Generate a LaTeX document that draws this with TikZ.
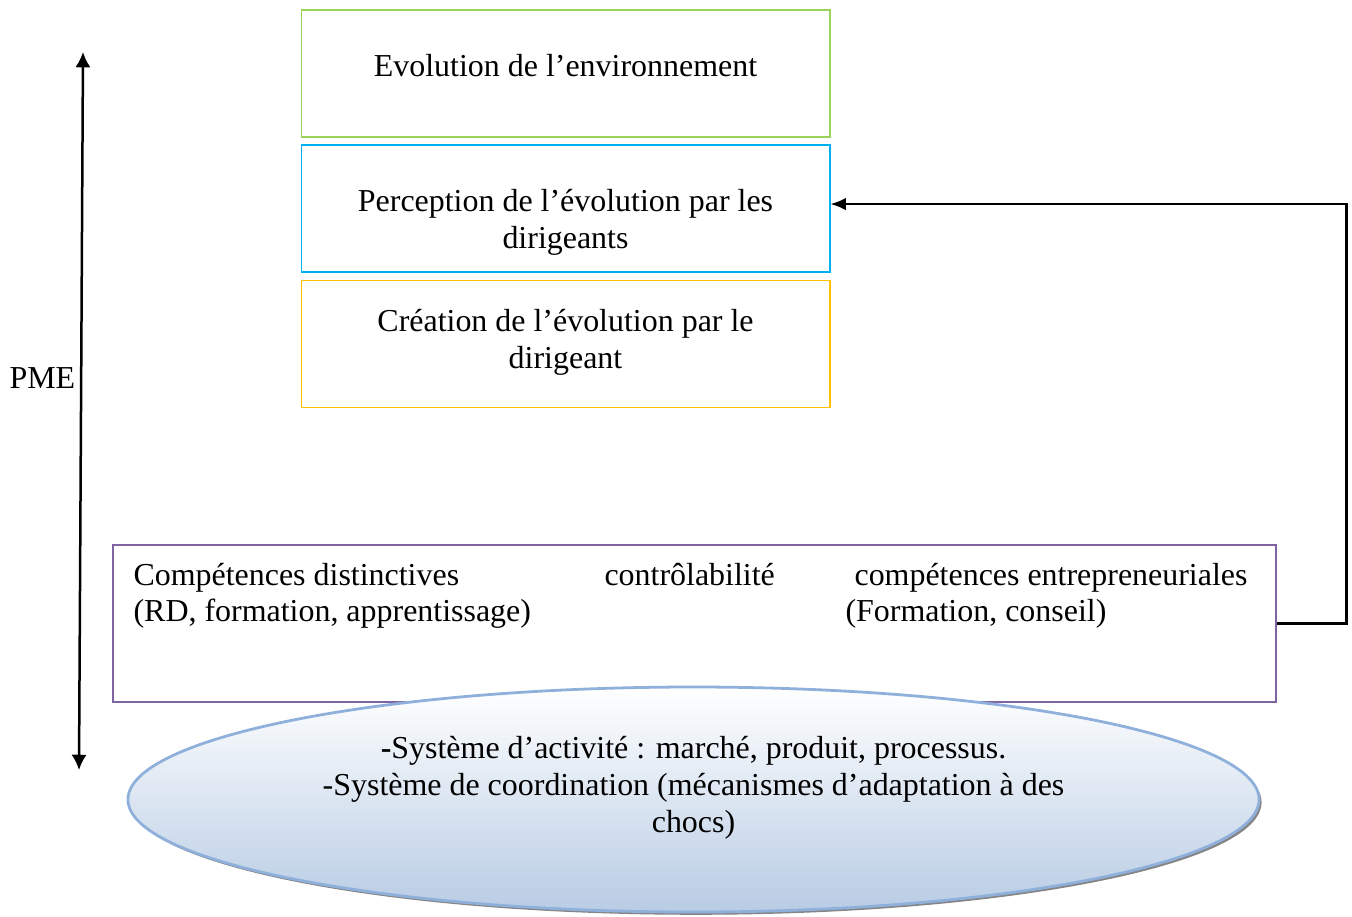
\documentclass[tikz,border=0pt]{standalone}
\usepackage{fontspec}
\setmainfont{Liberation Serif}
\usetikzlibrary{positioning,shapes.geometric,arrows.meta,shadows}
\definecolor{boxgreen}{HTML}{9BD35A}
\definecolor{boxcyan}{HTML}{00B0F0}
\definecolor{boxorange}{HTML}{FFC000}
\definecolor{boxpurple}{HTML}{8064A2}
\definecolor{ellline}{HTML}{8EB0DB}
\definecolor{ellfill}{HTML}{B8CCE4}

\begin{document}
\begin{tikzpicture}[x=0.36pt, y=-0.36pt,
    every node/.style={font=\fontsize{11.5}{13.3}\selectfont, align=center},
    box/.style={draw, line width=0.4pt, minimum width=190.4pt, minimum height=45.7pt, inner sep=0pt},
    lbl/.style={inner sep=0pt}]
    \useasboundingbox (0,0) rectangle (1352,916);
    % les trois niveaux
    \node[box, draw=boxgreen] (env) at (565.5,73.5) {};
    \node[box, draw=boxcyan] (persp) at (565.5,208.5) {};
    \node[box, draw=boxorange] (creat) at (565.5,344) {};
    \node[lbl, anchor=base] (envtxt) at (565.5,76) {Evolution de l’environnement};
    \node[lbl, anchor=base] (persptxt) at (565.5,248) {Perception de l’évolution par les\\dirigeants};
    \node[lbl, anchor=base] (creattxt) at (565.5,368) {Création de l’évolution par le\\dirigeant};
    % competences
    \node[draw=boxpurple, line width=0.4pt, minimum width=418.7pt, minimum height=56.5pt, inner sep=0pt] (comp) at (694.5,623.5) {};
    \node[lbl, anchor=base west] (compdist) at (133,585) {Compétences distinctives};
    \node[lbl, anchor=base west] (rd) at (133,621) {(RD, formation, apprentissage)};
    \node[lbl, anchor=base west] (ctrl) at (604,585) {contrôlabilité};
    \node[lbl, anchor=base west] (compent) at (854,585) {compétences entrepreneuriales};
    \node[lbl, anchor=base west] (conseil) at (845,621) {(Formation, conseil)};
    % systemes
    \node[ellipse, draw=ellline, line width=1pt, top color=white, bottom color=ellfill,
        minimum width=407.2pt, minimum height=81pt, inner sep=0pt,
        drop shadow={shadow xshift=0.9pt, shadow yshift=-1pt, fill=black!60, opacity=0.8}] (sys) at (693.5,799.5) {};
    \node[lbl, anchor=base] (systxt) at (693.5,832) {\textbf{-}Système d’activité : marché, produit, processus.\\-Système de coordination (mécanismes d’adaptation à des\\chocs)};
    % PME
    \coordinate (pmehaut) at (83,52);
    \coordinate (pmebas) at (79,770);
    \draw[line width=0.9pt, {Latex[length=5.5pt,width=5.5pt]}-{Latex[length=5.5pt,width=5.5pt]}] (pmehaut) -- (pmebas);
    \node[lbl, anchor=base west] (pme) at (9,388) {PME};
    % retour
    \draw[line width=0.8pt, -{Latex[length=5.5pt,width=4.5pt]}] (comp.east) -- ++(70,0) |- ([yshift=1.6pt]persp.east);
\end{tikzpicture}
\end{document}
